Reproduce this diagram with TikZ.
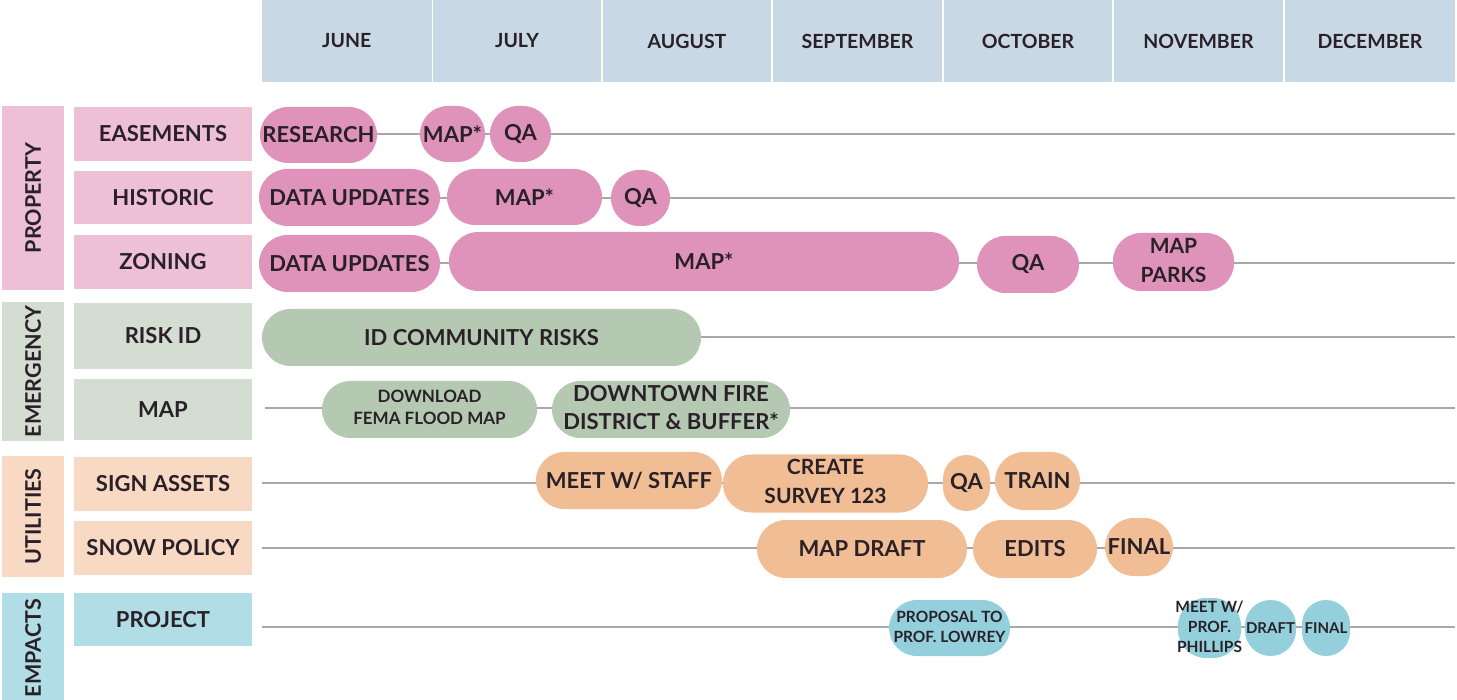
\documentclass[tikz,border=0pt]{standalone}
\usepackage{fontspec}
\setmainfont{Lato}
\definecolor{headc}{HTML}{C8D8E5}
\definecolor{propL}{HTML}{EDC0D5}
\definecolor{pinkP}{HTML}{DF93BA}
\definecolor{emgL}{HTML}{D3DDD1}
\definecolor{greenP}{HTML}{B5C8B1}
\definecolor{utlL}{HTML}{F7D9C4}
\definecolor{peachP}{HTML}{F1BD94}
\definecolor{empL}{HTML}{B1DEE6}
\definecolor{cyanP}{HTML}{93D0DC}
\definecolor{txtc}{HTML}{2A2128}
\definecolor{linec}{HTML}{A8A8A8}
% single line, zero width
\newcommand\zo[2]{\makebox[0pt][c]{\fontsize{#1}{#1}\selectfont\bfseries #2}}
% multi line, zero width
\newcommand\zw[3]{\raisebox{-2pt}{\makebox[0pt][c]{\fontsize{#1}{#2}\selectfont\bfseries\begin{tabular}{@{}c@{}}#3\end{tabular}}}}
\newcommand\pillnode[7]{%
  \pgfmathsetmacro\pw{#3-#2}%
  \pgfmathsetmacro\ph{#5-#4}%
  \pgfmathsetmacro\pr{min(\pw,\ph)/2}%
  \node[pill, fill=#6, minimum width=\pw pt, minimum height=\ph pt, rounded corners=\pr pt] (#1) at ({(#2+#3)/2},{(#4+#5)/2}) {#7};%
}
\newcommand\boxnode[7]{%
  \pgfmathsetmacro\pw{#3-#2}%
  \pgfmathsetmacro\ph{#5-#4}%
  \node[cell, fill=#6, minimum width=\pw pt, minimum height=\ph pt] (#1) at ({(#2+#3)/2},{(#4+#5)/2}) {#7};%
}
\tikzset{
  pill/.style={draw=none, inner sep=0pt, outer sep=0pt, text=txtc},
  cell/.style={draw=none, inner sep=0pt, outer sep=0pt, text=txtc},
  rowline/.style={draw=linec, line width=2pt},
}
\begin{document}
\begin{tikzpicture}[x=1pt,y=-1pt]
\useasboundingbox (0,0) rectangle (1457,700);
\fill[white] (0,0) rectangle (1457,700);
% header
\boxnode{mJun}{262}{431.5}{0}{82}{headc}{\zo{19.5}{JUNE}}
\boxnode{mJul}{433}{601}{0}{82}{headc}{\zo{19.5}{JULY}}
\boxnode{mAug}{603}{771}{0}{82}{headc}{\zo{19.5}{AUGUST}}
\boxnode{mSep}{773}{942}{0}{82}{headc}{\zo{19.5}{SEPTEMBER}}
\boxnode{mOct}{944}{1112}{0}{82}{headc}{\zo{19.5}{OCTOBER}}
\boxnode{mNov}{1114}{1283}{0}{82}{headc}{\zo{19.5}{NOVEMBER}}
\boxnode{mDec}{1285}{1455}{0}{82}{headc}{\zo{19.5}{DECEMBER}}
% categories
\boxnode{cProp}{2}{64}{106}{290}{propL}{\rotatebox{90}{\zo{21.5}{PROPERTY}}}
\boxnode{cEmg}{2}{64}{302}{441}{emgL}{\rotatebox{90}{\zo{21.5}{EMERGENCY}}}
\boxnode{cUtl}{2}{64}{456}{577}{utlL}{\rotatebox{90}{\zo{21.5}{UTILITIES}}}
\fill[empL] (2,593) rectangle (64,700);
\node[cell, rotate=90] (cEmp) at (33,648) {\zo{21.5}{EMPACTS}};
% sub labels
\boxnode{lEas}{74}{252}{107}{161}{propL}{\zo{22}{EASEMENTS}}
\boxnode{lHis}{74}{252}{171}{224}{propL}{\zo{22}{HISTORIC}}
\boxnode{lZon}{74}{252}{235}{289}{propL}{\zo{22}{ZONING}}
\boxnode{lRisk}{74}{252}{303}{369}{emgL}{\zo{22}{RISK ID}}
\boxnode{lMap}{74}{252}{379}{440}{emgL}{\zo{22}{MAP}}
\boxnode{lSign}{74}{252}{457}{511}{utlL}{\zo{22}{SIGN ASSETS}}
\boxnode{lSnow}{74}{252}{521}{575}{utlL}{\zo{22}{SNOW POLICY}}
\boxnode{lProj}{74}{252}{593}{646}{empL}{\zo{22}{PROJECT}}
% row lines
\coordinate (eL) at (262,134); \coordinate (eR) at (1455,134);
\coordinate (hL) at (262,198); \coordinate (hR) at (1455,198);
\coordinate (zL) at (262,263); \coordinate (zR) at (1455,263);
\coordinate (rL) at (690,337); \coordinate (rR) at (1455,337);
\coordinate (mL) at (265,408); \coordinate (mR) at (1455,408);
\coordinate (sL) at (262,483); \coordinate (sR) at (1455,483);
\coordinate (nL) at (262,548); \coordinate (nR) at (1455,548);
\coordinate (pL) at (262,627); \coordinate (pR) at (1455,627);
\foreach \r in {e,h,z,r,m,s,n,p} {\draw[rowline] (\r L) -- (\r R);}
% easements
\pillnode{e1}{260}{377}{107}{163}{pinkP}{\zo{22}{RESEARCH}}
\pillnode{e2}{420}{485}{106}{162}{pinkP}{\zo{22}{MAP*}}
\pillnode{e3}{490}{551}{106}{162}{pinkP}{\zo{22}{QA}}
% historic
\pillnode{h1}{259}{440}{169}{226}{pinkP}{\zo{22}{DATA UPDATES}}
\pillnode{h2}{447}{602}{169}{225}{pinkP}{\zo{22}{MAP*}}
\pillnode{h3}{611}{670}{170}{226}{pinkP}{\zo{22}{QA}}
% zoning
\pillnode{z1}{259}{440}{235}{292}{pinkP}{\zo{22}{DATA UPDATES}}
\pillnode{z2}{449}{959}{232}{291}{pinkP}{\zo{22}{MAP*}}
\pillnode{z3}{977}{1079}{236}{293}{pinkP}{\zo{22}{QA}}
\pillnode{z4}{1113}{1234}{234}{290}{pinkP}{\zw{21}{29}{MAP\\PARKS}}
% risk
\pillnode{r1}{262}{701}{309}{366}{greenP}{\zo{22}{ID COMMUNITY RISKS}}
% map
\pillnode{m1}{322}{537}{381}{438}{greenP}{\zw{17}{22}{DOWNLOAD\\FEMA FLOOD MAP}}
\pillnode{m2}{552}{790}{381}{438}{greenP}{\zw{22}{28}{DOWNTOWN FIRE\\DISTRICT \& BUFFER*}}
% sign assets
\pillnode{s1}{536}{722}{452}{509}{peachP}{\zo{22}{MEET W/ STAFF}}
\pillnode{s2}{723}{928}{455}{512}{peachP}{\zw{21}{29}{CREATE\\SURVEY 123}}
\pillnode{s3}{943}{990}{455}{511}{peachP}{\zo{22}{QA}}
\pillnode{s4}{995}{1080}{452}{510}{peachP}{\zo{22}{TRAIN}}
% snow
\pillnode{n1}{757}{967}{520}{578}{peachP}{\zo{22}{MAP DRAFT}}
\pillnode{n2}{973}{1097}{520}{578}{peachP}{\zo{22}{EDITS}}
\pillnode{n3}{1105}{1173}{518}{576}{peachP}{\zo{22}{FINAL}}
% project
\pillnode{p1}{889}{1010}{600}{656}{cyanP}{\zw{15.5}{20}{PROPOSAL TO\\PROF. LOWREY}}
\pillnode{p2}{1178}{1241}{600}{656}{cyanP}{\zw{15.5}{20}{MEET W/\\PROF.\\PHILLIPS}}
\pillnode{p3}{1245}{1296}{600}{656}{cyanP}{\zo{15}{DRAFT}}
\pillnode{p4}{1302}{1350}{600}{656}{cyanP}{\zo{15}{FINAL}}
\end{tikzpicture}
\end{document}
